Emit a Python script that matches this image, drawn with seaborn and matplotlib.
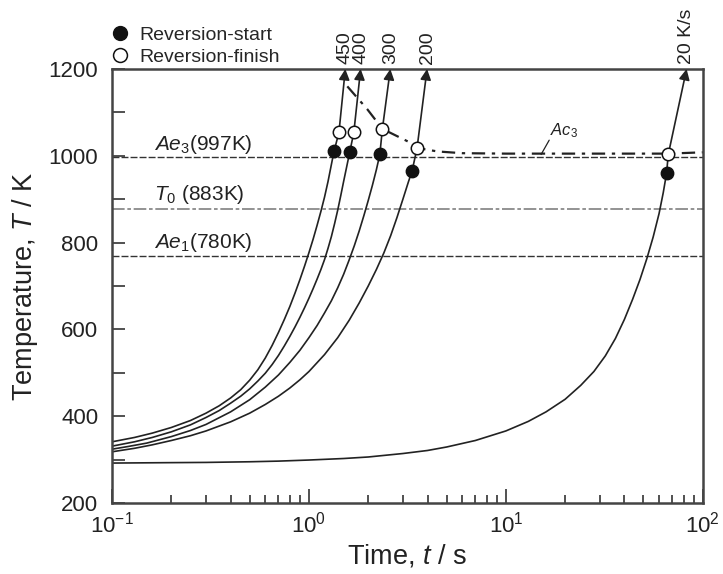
import numpy as np
import pandas as pd
import matplotlib
matplotlib.use("Agg")
import matplotlib.pyplot as plt
import matplotlib.transforms as mtransforms
from matplotlib.lines import Line2D
import seaborn as sns

# ---------------- data ----------------
rates = ["450", "400", "300", "200", "20 K/s"]

t_450 = [0.1, 0.13, 0.16, 0.2, 0.25, 0.3, 0.35, 0.4, 0.45, 0.5, 0.55, 0.6, 0.65, 0.7,
         0.75, 0.8, 0.85, 0.9, 0.95, 1.0, 1.05, 1.1, 1.15, 1.2, 1.25, 1.3, 1.34]
T_450 = [341, 351, 361, 374, 390, 407, 424, 442, 461, 483, 507, 534, 563, 593,
         623, 653, 684, 715, 746, 777, 808, 840, 872, 905, 941, 980, 1010]

t_400 = [0.1, 0.13, 0.16, 0.2, 0.25, 0.3, 0.35, 0.4, 0.45, 0.5, 0.55, 0.6, 0.65, 0.7,
         0.75, 0.8, 0.85, 0.9, 0.95, 1.0, 1.05, 1.1, 1.15, 1.2, 1.25, 1.3, 1.35, 1.4,
         1.45, 1.5, 1.55, 1.61]
T_400 = [331, 341, 351, 364, 380, 397, 413, 430, 446, 463, 481, 499, 519, 540,
         562, 584, 606, 628, 650, 672, 694, 716, 738, 761, 787, 814, 844, 875,
         908, 941, 972, 1008]

t_300 = [0.1, 0.12, 0.15, 0.2, 0.25, 0.3, 0.4, 0.5, 0.6, 0.7, 0.8, 0.9, 1.0, 1.1, 1.2,
         1.3, 1.4, 1.5, 1.6, 1.7, 1.8, 1.9, 2.0, 2.1, 2.2, 2.29]
T_300 = [324, 330, 338, 353, 367, 381, 410, 438, 467, 495, 524, 552, 581, 609, 638,
         666, 696, 727, 760, 793, 827, 862, 897, 932, 968, 1003]

t_200 = [0.1, 0.13, 0.16, 0.2, 0.25, 0.3, 0.4, 0.5, 0.6, 0.7, 0.8, 0.9, 1.0, 1.2, 1.4,
         1.6, 1.8, 2.0, 2.2, 2.4, 2.6, 2.8, 3.0, 3.2, 3.34]
T_200 = [318, 326, 334, 344, 355, 366, 387, 407, 427, 446, 465, 484, 503, 542, 581,
         621, 661, 700, 738, 776, 816, 858, 900, 940, 965]

t_20 = [0.1, 0.2, 0.3, 0.5, 0.7, 1.0, 1.5, 2, 3, 4, 5, 7, 10, 13, 16, 20, 24, 28, 32,
        36, 40, 44, 48, 52, 56, 60, 63, 65.5]
T_20 = [292, 293, 293.5, 295, 296.5, 299, 302.5, 306, 314, 321, 329, 344, 366, 388,
        410, 439, 471, 503, 539, 579, 623, 669, 715, 763, 813, 867, 915, 960]

start_t = [1.34, 1.61, 2.29, 3.34, 65.5]
start_T = [1010, 1008, 1003, 965, 960]
finish_t = [1.42, 1.69, 2.36, 3.54, 66.8]
finish_T = [1054, 1054, 1062, 1018, 1003]
arrow_t = [1.53, 1.83, 2.59, 3.98, 82.8]
arrow_T = [1200, 1200, 1200, 1200, 1200]

ac3_t = [1.566, 1.98, 2.36, 3.28, 3.54, 4.5, 6.0, 10.0, 20.0, 40.0, 66.8, 100.0]
ac3_T = [1160, 1107, 1062, 1030, 1018, 1010, 1006, 1005, 1005, 1005, 1005, 1008]

line_T = [997, 878, 768]
line_labels = [r"$\mathit{Ae}_{\mathit{3}}$(997K)", r"$\mathit{T}_{\mathit{0}}$ (883K)",
               r"$\mathit{Ae}_{\mathit{1}}$(780K)"]

# ---------------- style ----------------
sns.set_style("ticks")
plt.rcParams["font.family"] = ["Liberation Sans", "DejaVu Sans"]
plt.rcParams["mathtext.fontset"] = "custom"
plt.rcParams["mathtext.rm"] = "Liberation Sans"
plt.rcParams["mathtext.it"] = "Liberation Sans:italic"
plt.rcParams["mathtext.bf"] = "Liberation Sans:bold"
INK = "#222222"

fig = plt.figure(figsize=(7.23, 5.74), dpi=100)
ax = fig.add_axes([0.155, 0.1237, 0.817, 0.7561])
ax.set_xscale("log")

curves_t = [t_450, t_400, t_300, t_200, t_20]
curves_T = [T_450, T_400, T_300, T_200, T_20]
rows = []
for r, ts, Ts, ft, fT in zip(rates, curves_t, curves_T, finish_t, finish_T):
    tt = list(ts) + [ft]
    TT = list(Ts) + [fT]
    for i, (a, b) in enumerate(zip(tt, TT)):
        rows.append({"rate": r, "order": i, "t": a, "T": b})
df = pd.DataFrame(rows)

sns.lineplot(data=df, x="t", y="T", units="rate", estimator=None, sort=False,
             color=INK, lw=1.2, ax=ax, legend=False)

# arrows to the top of the frame
for ft, fT, at, aT in zip(finish_t, finish_T, arrow_t, arrow_T):
    ax.annotate("", xy=(at, aT), xytext=(ft, fT),
                arrowprops=dict(arrowstyle="-|>", color=INK, lw=1.2,
                                mutation_scale=16, shrinkA=0, shrinkB=0),
                annotation_clip=False)

# reference lines
styles = [dict(color="#333333", ls=(0, (5, 1.5)), lw=1.0),
          dict(color="#8a8a8a", ls=(0, (7, 1.5, 2, 1.5)), lw=1.3),
          dict(color="#333333", ls=(0, (5, 1.5)), lw=1.0)]
for yv, st in zip(line_T, styles):
    ax.axhline(yv, **st, zorder=1)
label_y = [1026, 910, 800]
for lab, yy in zip(line_labels, label_y):
    ax.text(0.163, yy, lab, fontsize=15, color=INK, va="center", ha="left")

# Ac3 curve
ac_df = pd.DataFrame({"t": ac3_t, "T": ac3_T})
sns.lineplot(data=ac_df, x="t", y="T", sort=False, color=INK, lw=1.6,
             ax=ax, legend=False, linestyle=(0, (6, 3, 1.5, 3)))
ax.text(16.8, 1059, r"$\mathit{Ac}_{\mathit{3}}$", fontsize=12, color=INK,
        ha="left", va="center")
ax.plot([15.1, 16.6], [1003, 1036], color=INK, lw=0.9)

# markers
pts = pd.DataFrame({"t": start_t + finish_t, "T": start_T + finish_T,
                    "kind": ["start"] * len(start_t) + ["finish"] * len(finish_t)})
sns.scatterplot(data=pts[pts.kind == "start"], x="t", y="T", s=80, color="#111111",
                edgecolor="#111111", linewidth=1, ax=ax, zorder=5, legend=False)
sns.scatterplot(data=pts[pts.kind == "finish"], x="t", y="T", s=80, color="white",
                edgecolor="#111111", linewidth=1.1, ax=ax, zorder=5, legend=False)

# heating-rate labels above the frame
trans = mtransforms.blended_transform_factory(ax.transData, ax.transAxes)
for at, lab in zip(arrow_t, rates):
    ax.text(at, 1.012, lab, transform=trans, rotation=90, ha="center", va="bottom",
            fontsize=14, color=INK)

# axes
ax.set_xlim(0.1, 100)
ax.set_ylim(200, 1200)
ax.set_yticks([200, 400, 600, 800, 1000, 1200])
ax.set_yticks(np.arange(200, 1201, 100), minor=True)
ax.set_xlabel(r"Time, $\mathit{t}$ / s", fontsize=19.5, color=INK, labelpad=4)
ax.set_ylabel(r"Temperature, $\mathit{T}$ / K", fontsize=19.5, color=INK, labelpad=6)
ax.tick_params(axis="both", which="both", direction="in", colors="#333333",
               labelcolor=INK, labelsize=16, width=1.2)
ax.tick_params(axis="y", which="both", length=9, pad=10)
ax.tick_params(axis="x", which="major", length=10, pad=6)
ax.tick_params(axis="x", which="minor", length=6)
for sp in ax.spines.values():
    sp.set_linewidth(1.8)
    sp.set_color("#444444")

legend_handles = [
    Line2D([], [], marker="o", ls="", mfc="#111111", mec="#111111", ms=10,
           label="Reversion-start"),
    Line2D([], [], marker="o", ls="", mfc="white", mec="#111111", ms=10, mew=1.1,
           label="Reversion-finish"),
]
ax.legend(handles=legend_handles, loc="lower left", bbox_to_anchor=(0.153, 0.885),
          bbox_transform=fig.transFigure, frameon=False, fontsize=14,
          handletextpad=0.5, labelspacing=0.25, borderaxespad=0, borderpad=0,
          handlelength=1.0)

fig.savefig("out.png", dpi=100)
